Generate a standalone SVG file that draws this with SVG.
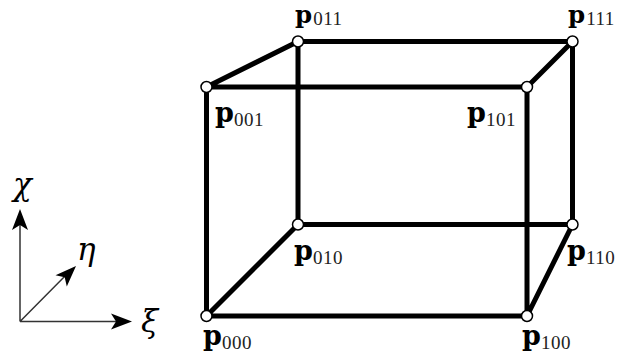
<svg xmlns="http://www.w3.org/2000/svg" width="618" height="356" viewBox="0 0 618 356">
<style>
.e{stroke:#000;stroke-width:5;fill:none}
.a{stroke:#333;stroke-width:1.500;fill:none}
.v{fill:#fff;stroke:#000;stroke-width:1.500}
text{font-family:"Liberation Serif","Times New Roman",serif;fill:#000}
.p{font-family:"DejaVu Serif",serif;font-size:27px;font-weight:bold}
.t{font-size:24.500px}
.s{font-size:19px;letter-spacing:0.500px;fill:#222}
.g{font-family:"DejaVu Serif",serif;font-size:31px;font-style:italic}
</style>
<defs><path id="h" d="M0 0L-21 -8L-16 0L-21 8Z" fill="#000"/></defs>
<g id="connectors">
<path class="e" d="M206.500 87H527M298 41.500H572.500M298 224.500H572.500M206.500 316H527M206.500 87V316M527 87V316M298 41.500V224.500M572.500 41.500V224.500M206.500 87L298 41.500M527 87L572.500 41.500M206.500 316L298 224.500M527 316L572.500 224.500"/>
</g>
<g id="axes">
<path class="a" d="M20 321.500V220M20 321.500H125M20 321.500L70 271"/>
<use href="#h" transform="translate(20,209) rotate(-90)"/>
<use href="#h" transform="translate(132,321.500)"/>
<use href="#h" transform="translate(76,266) rotate(-45)"/>
<text class="g" x="13" y="195">χ</text>
<text class="g" x="77" y="260">η</text>
<text class="g" x="141" y="332">ξ</text>
</g>
<g id="p000"><circle class="v" cx="206.500" cy="316" r="5.500"/><text x="203" y="345"><tspan class="p">p</tspan><tspan class="s" dy="4">000</tspan></text></g>
<g id="p100"><circle class="v" cx="527" cy="316" r="5.500"/><text x="522" y="345"><tspan class="p">p</tspan><tspan class="s" dy="4">100</tspan></text></g>
<g id="p010"><circle class="v" cx="298" cy="224.500" r="5.500"/><text x="294" y="260"><tspan class="p">p</tspan><tspan class="s" dy="4">010</tspan></text></g>
<g id="p110"><circle class="v" cx="572.500" cy="224.500" r="5.500"/><text x="567" y="260"><tspan class="p">p</tspan><tspan class="s" dy="4">110</tspan></text></g>
<g id="p001"><circle class="v" cx="206.500" cy="87" r="5.500"/><text x="215" y="122"><tspan class="p">p</tspan><tspan class="s" dy="4">001</tspan></text></g>
<g id="p101"><circle class="v" cx="527" cy="87" r="5.500"/><text x="467" y="122"><tspan class="p">p</tspan><tspan class="s" dy="4">101</tspan></text></g>
<g id="p011"><circle class="v" cx="298" cy="41.500" r="5.500"/><text x="295" y="23"><tspan class="p t">p</tspan><tspan class="s" dx="1" dy="2">011</tspan></text></g>
<g id="p111"><circle class="v" cx="572.500" cy="41.500" r="5.500"/><text x="568" y="23"><tspan class="p t">p</tspan><tspan class="s" dx="1" dy="2">111</tspan></text></g>
</svg>
